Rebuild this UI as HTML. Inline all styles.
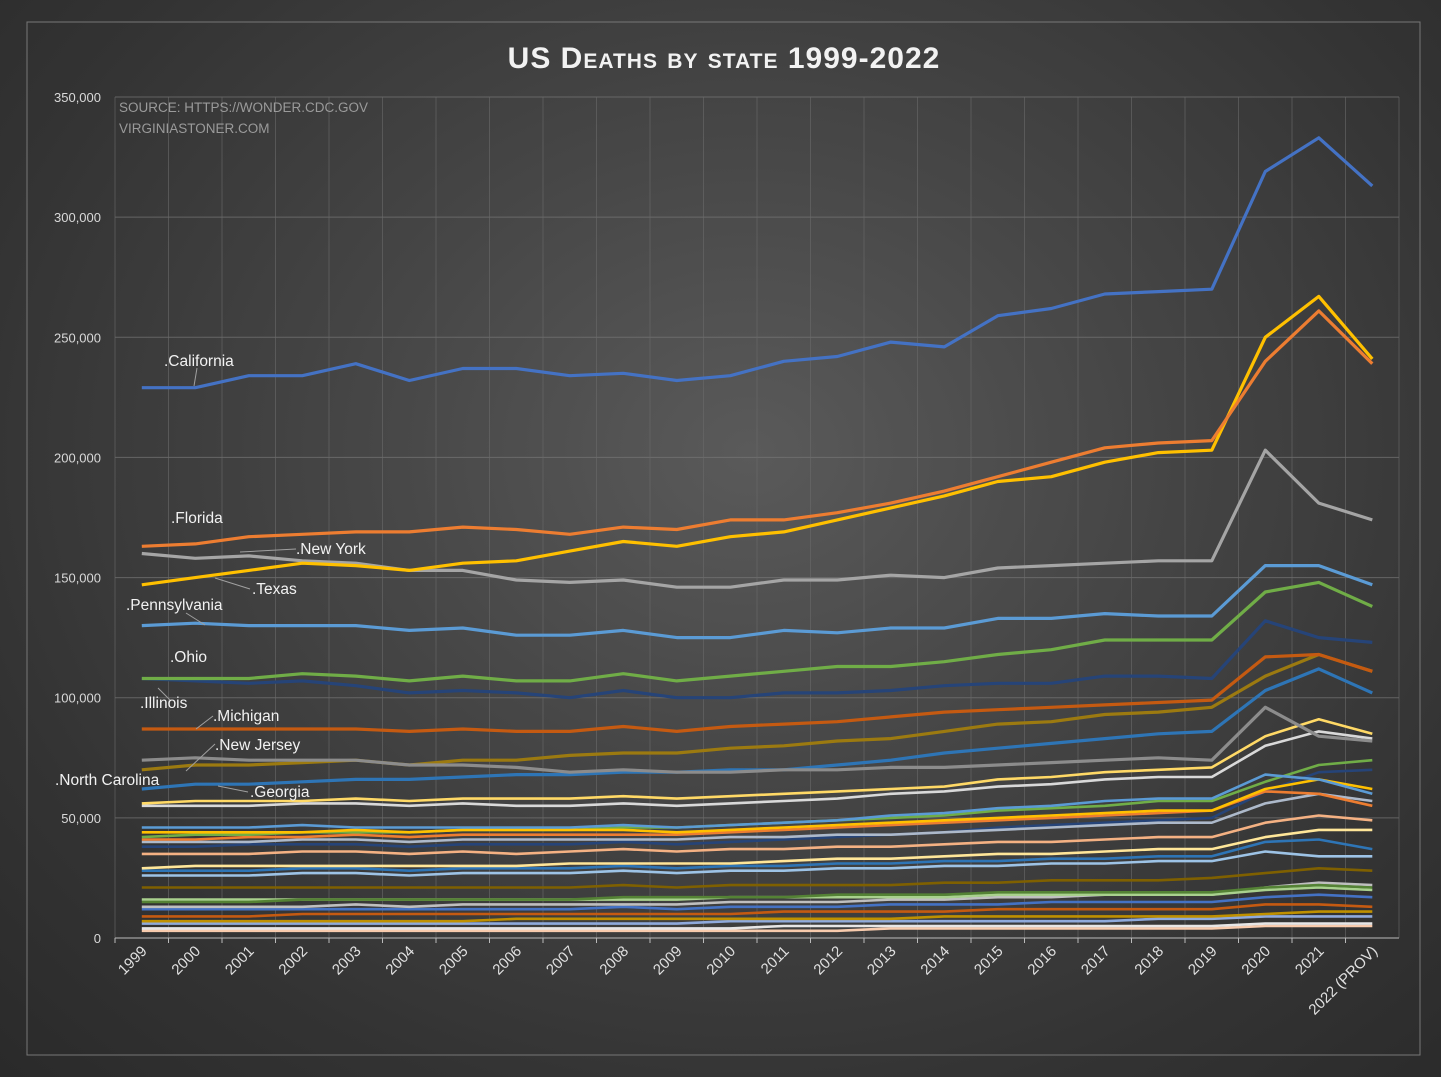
<!DOCTYPE html>
<html><head><meta charset="utf-8"><style>
html,body{margin:0;padding:0;background:#2b2b2b;}
#wrap{width:1441px;height:1077px;position:relative;overflow:hidden;
background:radial-gradient(ellipse at 52% 42%,#5a5a5a 0%,#474747 35%,#333 75%,#2a2a2a 100%);}
svg{position:absolute;left:0;top:0;font-family:"Liberation Sans",sans-serif;}
</style></head><body>
<div id="wrap">
<svg id="chart" width="1441" height="1077"></svg>
</div>
<script>
const years=["1999","2000","2001","2002","2003","2004","2005","2006","2007","2008","2009","2010","2011","2012","2013","2014","2015","2016","2017","2018","2019","2020","2021","2022 (PROV)"];
const yTicks=[0,50000,100000,150000,200000,250000,300000,350000];
const california=[229,229,234,234,239,232,237,237,234,235,232,234,240,242,248,246,259,262,268,269,270,319,333,313];
const florida=[163,164,167,168,169,169,171,170,168,171,170,174,174,177,181,186,192,198,204,206,207,240,261,239];
const texas=[147,150,153,156,155,153,156,157,161,165,163,167,169,174,179,184,190,192,198,202,203,250,267,241];
const newYork=[160,158,159,157,156,153,153,149,148,149,146,146,149,149,151,150,154,155,156,157,157,203,181,174];
const pennsylvania=[130,131,130,130,130,128,129,126,126,128,125,125,128,127,129,129,133,133,135,134,134,155,155,147];
const ohio=[108,108,108,110,109,107,109,107,107,110,107,109,111,113,113,115,118,120,124,124,124,144,148,138];
const illinois=[108,107,106,107,105,102,103,102,100,103,100,100,102,102,103,105,106,106,109,109,108,132,125,123];
const michigan=[87,87,87,87,87,86,87,86,86,88,86,88,89,90,92,94,95,96,97,98,99,117,118,111];
const newJersey=[74,75,74,74,74,72,72,71,69,70,69,69,70,70,71,71,72,73,74,75,74,96,84,82];
const northCarolina=[70,72,72,73,74,72,74,74,76,77,77,79,80,82,83,86,89,90,93,94,96,109,118,111];
const georgia=[62,64,64,65,66,66,67,68,68,69,69,70,70,72,74,77,79,81,83,85,86,103,112,102];
const s1=[56,57,57,57,58,57,58,58,58,59,58,59,60,61,62,63,66,67,69,70,71,84,91,85];
const s2=[55,55,55,56,56,55,56,55,55,56,55,56,57,58,60,61,63,64,66,67,67,80,86,83];
const s3=[46,46,46,47,46,46,46,46,46,47,46,47,48,49,51,52,54,55,57,58,58,68,66,60];
const s4=[42,43,43,44,44,44,45,45,45,46,46,47,48,49,50,51,53,54,55,57,57,65,72,74];
const s5=[41,41,42,42,43,42,43,43,43,43,43,44,45,46,47,48,49,50,51,52,53,61,60,55];
const s6=[38,38,39,39,39,38,39,39,39,40,39,40,41,42,43,44,46,47,48,49,50,61,69,70];
const s7=[35,35,35,36,36,35,36,35,36,37,36,37,37,38,38,39,40,40,41,42,42,48,51,49];
const s8=[29,30,30,30,30,30,30,30,31,31,31,31,32,33,33,34,35,35,36,37,37,42,45,45];
const s9=[28,28,28,29,29,28,29,29,29,30,29,30,30,31,31,32,32,33,33,34,34,40,41,37];
const s10=[26,26,26,27,27,26,27,27,27,28,27,28,28,29,29,30,30,31,31,32,32,36,34,34];
const s11=[21,21,21,21,21,21,21,21,21,22,21,22,22,22,22,23,23,24,24,24,25,27,29,28];
const s12=[15,15,15,16,16,16,16,16,16,17,17,17,17,18,18,18,19,19,19,19,19,21,22,21];
const s13=[13,13,13,13,14,13,14,14,14,14,14,15,15,15,16,16,17,17,18,18,18,21,23,22];
const s14=[12,12,12,12,12,12,12,12,12,13,12,13,13,13,14,14,14,15,15,15,15,17,18,17];
const s15=[9,9,9,10,10,10,10,10,10,10,10,10,11,11,11,11,12,12,12,12,12,14,14,13];
const s16=[7,7,7,7,7,7,7,8,8,8,8,8,8,8,8,9,9,9,9,9,9,10,11,11];
const s17=[6,6,6,6,6,6,6,6,6,6,6,7,7,7,7,7,7,7,7,8,8,9,9,9];
const s18=[4,4,4,4,4,4,4,4,4,4,4,4,5,5,5,5,5,5,5,5,5,6,6,6];
const s19=[3,3,3,3,3,3,3,3,3,3,3,3,3,3,4,4,4,4,4,4,4,5,5,5];
const s20=[16,16,16,16,16,16,16,16,16,16,16,17,17,17,17,17,18,18,18,18,18,20,21,20];
const s21=[44,44,44,44,45,44,45,45,45,45,44,45,46,47,48,49,50,51,52,53,53,62,66,62];
const s22=[40,40,40,41,41,40,41,41,41,41,41,42,42,43,43,44,45,46,47,48,48,56,60,57];

const NS='http://www.w3.org/2000/svg';
const svg=document.getElementById('chart');
const L=115,R=1399,Y0=938,Ytop=97,YMAX=350000;
const step=(R-L)/years.length;
const xs=i=>L+step*(i+0.5);
const ys=v=>Y0-(v/YMAX)*(Y0-Ytop);
function mk(tag,attrs,parent){const e=document.createElementNS(NS,tag);for(const k in attrs)e.setAttribute(k,attrs[k]);(parent||svg).appendChild(e);return e;}

// outer border
const border=mk('rect',{x:27,y:22,width:1393,height:1033,fill:'none',stroke:'#777','stroke-width':1});



// title
const title=mk('text',{x:724,y:68,'text-anchor':'middle',fill:'#f2f2f2','font-size':30,'font-weight':'bold','font-variant':'small-caps','letter-spacing':1});
title.textContent='US Deaths by state 1999-2022';



// gridlines
const grid=mk('g',{});


yTicks.forEach(t=>{
  if(t>0) mk('line',{x1:L,x2:R,y1:ys(t),y2:ys(t),stroke:'#777','stroke-width':1,opacity:0.7},grid);
  const tl=mk('text',{x:101,y:ys(t)+5,'text-anchor':'end',fill:'#d9d9d9','font-size':13});
  tl.textContent=t.toLocaleString('en-US');
  
  
});
for(let i=0;i<=years.length;i++){
  mk('line',{x1:L+step*i,x2:L+step*i,y1:Ytop,y2:Y0,stroke:'#6a6a6a','stroke-width':1,opacity:0.6},grid);
}
// x axis
const xa=mk('line',{x1:L,x2:R,y1:Y0,y2:Y0,stroke:'#bbb','stroke-width':1});


years.forEach((y,i)=>{
  mk('line',{x1:L+step*i,x2:L+step*i,y1:Y0,y2:Y0+5,stroke:'#bbb'});
  const tx=xs(i)+6,ty=Y0+14;
  const t=mk('text',{x:tx,y:ty,'text-anchor':'end',fill:'#e0e0e0','font-size':15,transform:`rotate(-45 ${tx} ${ty})`});
  t.textContent=y;
  
  
});

// source
const src=mk('text',{x:119,y:112,fill:'#9a9a9a','font-size':13.5});
src.textContent='SOURCE: HTTPS://WONDER.CDC.GOV';


const src2=mk('text',{x:119,y:133,fill:'#9a9a9a','font-size':13.5});
src2.textContent='VIRGINIASTONER.COM';



const minor=[[s19,'#f8cbad'],[s18,'#e7e6e6'],[s17,'#8faadc'],[s16,'#bf9000'],[s15,'#c55a11'],[s14,'#4472c4'],[s13,'#bfbfbf'],[s20,'#a9d18e'],[s12,'#548235'],[s11,'#7f6000'],[s10,'#9dc3e6'],[s9,'#2e75b6'],[s8,'#ffe699'],[s7,'#f4b183'],[s6,'#264478'],[s22,'#adb9ca'],[s5,'#ed7d31'],[s4,'#70ad47'],[s21,'#ffc000'],[s3,'#5b9bd5'],[s2,'#d9d9d9'],[s1,'#ffd966']];
const major=[
 [georgia,'#2e75b6','georgia'],[northCarolina,'#9c7a10','north-carolina'],[newJersey,'#8c8c8c','new-jersey'],[michigan,'#c55a11','michigan'],
 [illinois,'#264478','illinois'],[ohio,'#70ad47','ohio'],[pennsylvania,'#5b9bd5','pennsylvania'],[newYork,'#a5a5a5','new-york'],
 [texas,'#ffc000','texas'],[florida,'#ed7d31','florida'],[california,'#4472c4','california']];
function draw(arr,color,w,name){
  const d=arr.map((v,i)=>(i?'L':'M')+xs(i).toFixed(1)+','+ys(v*1000).toFixed(1)).join(' ');
  const p=mk('path',{d:d,fill:'none',stroke:color,'stroke-width':w,'stroke-linejoin':'round'});
  
  
}
minor.forEach((m,k)=>draw(m[0],m[1],2.6,'state-line-'+(k+1)));
major.forEach(m=>draw(m[0],m[1],3.2,'line-'+m[2]));

// labels
const labels=[
 ['.California',164,366,[197,368,194,386]],
 ['.Florida',171,523,null],
 ['.New York',296,554,[296,549,240,552]],
 ['.Texas',252,594,[250,589,215,578]],
 ['.Pennsylvania',126,610,[186,613,205,625]],
 ['.Ohio',170,662,null],
 ['.Illinois',140,708,[170,700,158,688]],
 ['.Michigan',213,721,[213,716,196,729]],
 ['.New Jersey',215,750,[215,744,186,771]],
 ['.North Carolina',55,785,null],
 ['.Georgia',250,797,[248,792,218,786]]];
labels.forEach(l=>{
  if(l[3]){const ln=mk('line',{x1:l[3][0],y1:l[3][1],x2:l[3][2],y2:l[3][3],stroke:'#a0a0a0','stroke-width':1});
    
    }
  const t=mk('text',{x:l[1],y:l[2],fill:'#f2f2f2','font-size':15.5});
  t.textContent=l[0];
  
  
});
</script>
</body></html>
